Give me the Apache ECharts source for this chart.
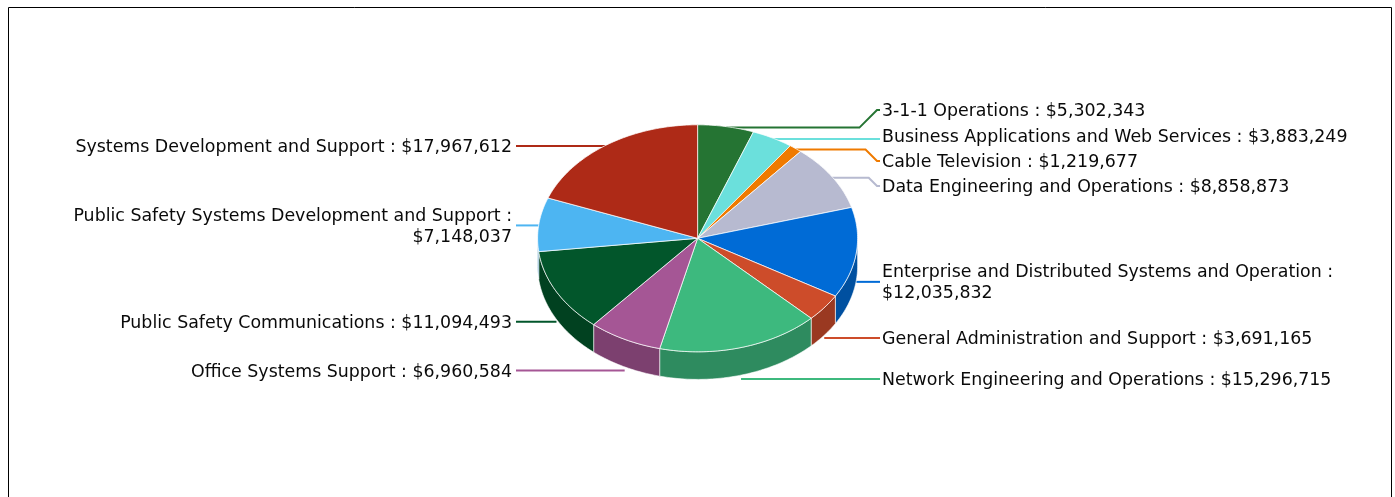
<!DOCTYPE html>
<html>
<head>
<meta charset="utf-8">
<style>html,body{margin:0;padding:0;background:#fff}#chart{width:1395px;height:497px}</style>
<script src="https://cdn.jsdelivr.net/npm/echarts@6/dist/echarts.min.js"></script>
</head>
<body>
<div id="chart"></div>
<script>
// Budget programs, listed clockwise from twelve o'clock
const categories = [
  '3-1-1 Operations',
  'Business Applications and Web Services',
  'Cable Television',
  'Data Engineering and Operations',
  'Enterprise and Distributed Systems and Operation',
  'General Administration and Support',
  'Network Engineering and Operations',
  'Office Systems Support',
  'Public Safety Communications',
  'Public Safety Systems Development and Support',
  'Systems Development and Support'
];
const budgets = [5302343, 3883249, 1219677, 8858873, 12035832, 3691165, 15296715, 6960584, 11094493, 7148037, 17967612];
const topColors = ['#257433', '#6BE0DC', '#EF7A00', '#B7BAD0', '#006BD6', '#CD4C2A', '#3DB97E', '#A55695', '#02562B', '#4DB5F2', '#AE2A17'];
const wallColors = ['#1B5726', '#50A8A5', '#B35C00', '#898B9C', '#0050A0', '#9A3921', '#2E8B5F', '#7C406F', '#014120', '#3A88B5', '#832011'];
// Stacked label rows for the crowded top-right slices; null follows the slice's own rim height
const labelRows = [110, 136, 161, 186, null, null, null, null, null, null, null];
// Long labels drop the amount onto a second line
const wrapAmount = [false, false, false, false, true, false, false, false, false, true, false];

const WALL_DEPTH = 0.243;      // wall height, in y-axis units
const LEFT_TEXT_X = 512, RIGHT_TEXT_X = 882;
const LEFT_LINE_X = 516, RIGHT_LINE_X = 880, ELBOW_END_X = 877;
const EDGE = 'rgba(255,255,255,0.72)';

const total = budgets.reduce((a, b) => a + b, 0);
const startAngles = [];
budgets.reduce((sum, v, i) => { startAngles[i] = sum / total * 360; return sum + v; }, 0);
const rad = d => d * Math.PI / 180;
const rim = (deg, drop) => [Math.sin(rad(deg)), Math.cos(rad(deg)) - (drop || 0)];
const money = v => '$' + v.toLocaleString('en-US');

function arc(from, to, drop) {
  const pts = [];
  const n = Math.max(2, Math.ceil(to - from));
  for (let k = 0; k <= n; k++) pts.push(rim(from + (to - from) * k / n, drop));
  return pts;
}

// Outer wall: only the part of the rim on the near side of the disc shows
function renderWall(params, api) {
  const i = params.dataIndex;
  const a0 = Math.max(startAngles[i], 90);
  const a1 = Math.min(startAngles[i] + budgets[i] / total * 360, 270);
  if (a1 <= a0) return { type: 'group', children: [] };
  const pts = arc(a0, a1, 0).concat(arc(a0, a1, WALL_DEPTH).reverse()).map(p => api.coord(p));
  return {
    type: 'polygon',
    shape: { points: pts },
    style: { fill: wallColors[i], stroke: EDGE, lineWidth: 0.8 }
  };
}

function renderTop(params, api) {
  const i = params.dataIndex;
  const a0 = startAngles[i], a1 = a0 + budgets[i] / total * 360;
  const pts = [[0, 0]].concat(arc(a0, a1, 0)).map(p => api.coord(p));
  return {
    type: 'polygon',
    shape: { points: pts },
    style: { fill: topColors[i], stroke: EDGE, lineWidth: 1 }
  };
}

// Leader line from the slice's mid-angle on the rim, and its text
function renderLabel(params, api) {
  const i = params.dataIndex;
  const mid = startAngles[i] + budgets[i] / total * 180;
  const cosMid = Math.cos(rad(mid));
  const near = cosMid < 0;
  const start = api.coord(rim(mid, near ? WALL_DEPTH : 0));
  start[1] += near ? 1 + 3 * Math.abs(cosMid) : 1;
  const right = mid < 180;
  const row = labelRows[i];
  const textY = row === null ? start[1] + 0.5 : row;
  const elbow = row !== null && Math.abs(row - start[1]) > 3;
  const pts = [start];
  if (right) {
    if (elbow) {
      pts.push([ELBOW_END_X - Math.abs(row - start[1]), start[1]], [ELBOW_END_X, row]);
    }
    pts.push([RIGHT_LINE_X, elbow ? row : start[1]]);
  } else {
    pts.push([LEFT_LINE_X, start[1]]);
  }
  return {
    type: 'group',
    children: [
      {
        type: 'polyline',
        shape: { points: pts },
        style: { fill: 'none', stroke: topColors[i], lineWidth: 2 }
      },
      {
        type: 'text',
        style: {
          text: categories[i] + ' :' + (wrapAmount[i] ? '\n' : ' ') + money(budgets[i]),
          x: right ? RIGHT_TEXT_X : LEFT_TEXT_X,
          y: textY + 1,
          lineHeight: 21,
          align: right ? 'left' : 'right',
          verticalAlign: 'middle',
          fill: '#0a0a0a',
          font: '17.4px "DejaVu Sans"'
        }
      }
    ]
  };
}

const sliceData = budgets.map(v => ({ value: [0, 0, v] }));
const layer = (renderItem, z) => ({
  type: 'custom',
  coordinateSystem: 'cartesian2d',
  renderItem,
  data: sliceData,
  clip: false,
  silent: true,
  z
});

const chart = echarts.init(document.getElementById('chart'), null, { renderer: 'canvas' });
chart.setOption({
  animation: false,
  backgroundColor: '#fff',
  grid: { left: 537.6, top: 124.8, width: 320, height: 227 },
  xAxis: { type: 'value', min: -1, max: 1, show: false },
  yAxis: { type: 'value', min: -1, max: 1, show: false },
  graphic: [{
    type: 'rect',
    shape: { x: 8.5, y: 7.5, width: 1383, height: 600 },
    style: { fill: 'none', stroke: '#000', lineWidth: 1 },
    silent: true
  }],
  series: [layer(renderLabel, 1), layer(renderWall, 2), layer(renderTop, 3)]
});
</script>
</body>
</html>
